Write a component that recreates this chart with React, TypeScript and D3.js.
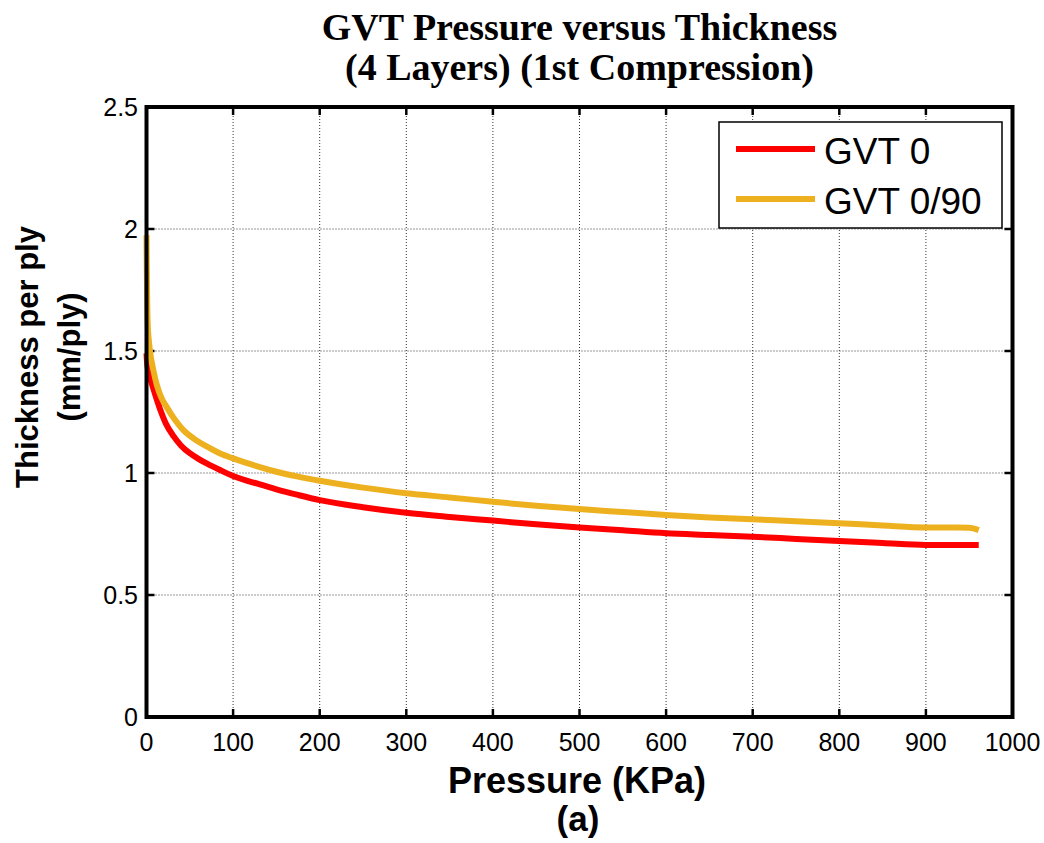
import React from "react";
import * as d3 from "d3";

const xTicks = [0, 100, 200, 300, 400, 500, 600, 700, 800, 900, 1000];
const yTicks = [0, 0.5, 1, 1.5, 2, 2.5];
const yTickLabels = ["0", "0.5", "1", "1.5", "2", "2.5"];

const redX = [0, 0.5, 2, 5, 8, 12, 16, 22, 31, 40, 50, 60, 70, 85, 100, 129, 150, 175, 200, 250, 300, 350, 400, 450, 500, 550, 600, 650, 700, 750, 800, 850, 900, 961];
const redY = [1.49, 1.46, 1.42, 1.38, 1.345, 1.3, 1.258, 1.205, 1.152, 1.112, 1.081, 1.058, 1.038, 1.012, 0.988, 0.955, 0.933, 0.91, 0.889, 0.86, 0.837, 0.82, 0.805, 0.79, 0.777, 0.765, 0.753, 0.746, 0.739, 0.73, 0.721, 0.713, 0.705, 0.705];

const orangeX = [0, 0.3, 0.8, 1.5, 2.5, 4, 8, 12, 17, 23, 32, 42, 55, 70, 85, 100, 129, 150, 175, 200, 250, 300, 350, 400, 450, 500, 550, 600, 650, 700, 750, 800, 850, 900, 950, 961];
const orangeY = [1.975, 1.85, 1.7, 1.6, 1.55, 1.5, 1.42, 1.36, 1.31, 1.272, 1.222, 1.178, 1.14, 1.108, 1.08, 1.06, 1.026, 1.005, 0.985, 0.968, 0.94, 0.917, 0.9, 0.882, 0.866, 0.852, 0.84, 0.828, 0.818, 0.81, 0.802, 0.794, 0.785, 0.777, 0.776, 0.766];

const seriesNames = ["GVT 0", "GVT 0/90"];
const seriesColors = ["#FF0000", "#EDB120"];

export default function App() {
  const W = 1044, H = 843;
  const L = 146.5, R = 1012.5, T = 107, B = 717;
  const x = d3.scaleLinear().domain([0, 1000]).range([L, R]);
  const y = d3.scaleLinear().domain([0, 2.5]).range([B, T]);
  const line = d3.line<[number, number]>().x(d => x(d[0])).y(d => y(d[1])).curve(d3.curveMonotoneX);
  const redPts = redX.map((v, i) => [v, redY[i]] as [number, number]);
  const orPts = orangeX.map((v, i) => [v, orangeY[i]] as [number, number]);
  const tickLen = 8;
  const sans = "Arial, 'Liberation Sans', Helvetica, sans-serif";
  const serif = "'Times New Roman', 'Liberation Serif', serif";
  const cx = (L + R) / 2;

  return (
    <svg width={W} height={H} style={{ position: "absolute", left: 0, top: 0, background: "#fff" }}>
      <rect x={0} y={0} width={W} height={H} fill="#fff" />
      {xTicks.slice(1, -1).map(t => (
        <line key={"gx" + t} x1={x(t)} x2={x(t)} y1={B} y2={T} stroke="#333" strokeWidth={1} strokeDasharray="1,2" />
      ))}
      {yTicks.slice(1, -1).map(t => (
        <line key={"gy" + t} x1={L} x2={R} y1={y(t)} y2={y(t)} stroke="#333" strokeWidth={1} strokeDasharray="1,2" />
      ))}
      {xTicks.map(t => (
        <g key={"tx" + t}>
          <line x1={x(t)} x2={x(t)} y1={B} y2={B - tickLen} stroke="#000" strokeWidth={2.5} />
          <line x1={x(t)} x2={x(t)} y1={T} y2={T + tickLen} stroke="#000" strokeWidth={2.5} />
          <text x={x(t)} y={751} textAnchor="middle" fontFamily={sans} fontSize={25}>{t}</text>
        </g>
      ))}
      {yTicks.map((t, i) => (
        <g key={"ty" + t}>
          <line x1={L} x2={L + tickLen} y1={y(t)} y2={y(t)} stroke="#000" strokeWidth={2.5} />
          <line x1={R} x2={R - tickLen} y1={y(t)} y2={y(t)} stroke="#000" strokeWidth={2.5} />
          <text x={138} y={y(t) + 9} textAnchor="end" fontFamily={sans} fontSize={25}>{yTickLabels[i]}</text>
        </g>
      ))}
      <path d={line(redPts) || ""} fill="none" stroke={seriesColors[0]} strokeWidth={6} strokeLinejoin="round" />
      <path d={line(orPts) || ""} fill="none" stroke={seriesColors[1]} strokeWidth={6} strokeLinejoin="round" />
      <rect x={L} y={T} width={R - L} height={B - T} fill="none" stroke="#000" strokeWidth={4} />
      <rect x={719} y={122} width={283} height={106} fill="#fff" stroke="#000" strokeWidth={1.5} />
      {seriesNames.map((n, i) => (
        <g key={n}>
          <line x1={736} x2={815} y1={149 + i * 50} y2={149 + i * 50} stroke={seriesColors[i]} strokeWidth={6} />
          <text x={824} y={164 + i * 50} fontFamily={sans} fontSize={37}>{n}</text>
        </g>
      ))}
      <text x={cx} y={40} textAnchor="middle" fontFamily={serif} fontWeight="bold" fontSize={38}>GVT Pressure versus Thickness</text>
      <text x={cx} y={80} textAnchor="middle" fontFamily={serif} fontWeight="bold" fontSize={38}>(4 Layers) (1st Compression)</text>
      <g transform="translate(0,357) rotate(-90)">
        <text x={0} y={38} textAnchor="middle" fontFamily={sans} fontWeight="bold" fontSize={31}>Thickness per ply</text>
        <text x={0} y={80} textAnchor="middle" fontFamily={sans} fontWeight="bold" fontSize={31}>(mm/ply)</text>
      </g>
      <text x={577} y={793} textAnchor="middle" fontFamily={sans} fontWeight="bold" fontSize={36}>Pressure (KPa)</text>
      <text x={578} y={831} textAnchor="middle" fontFamily={sans} fontWeight="bold" fontSize={35}>(a)</text>
    </svg>
  );
}
